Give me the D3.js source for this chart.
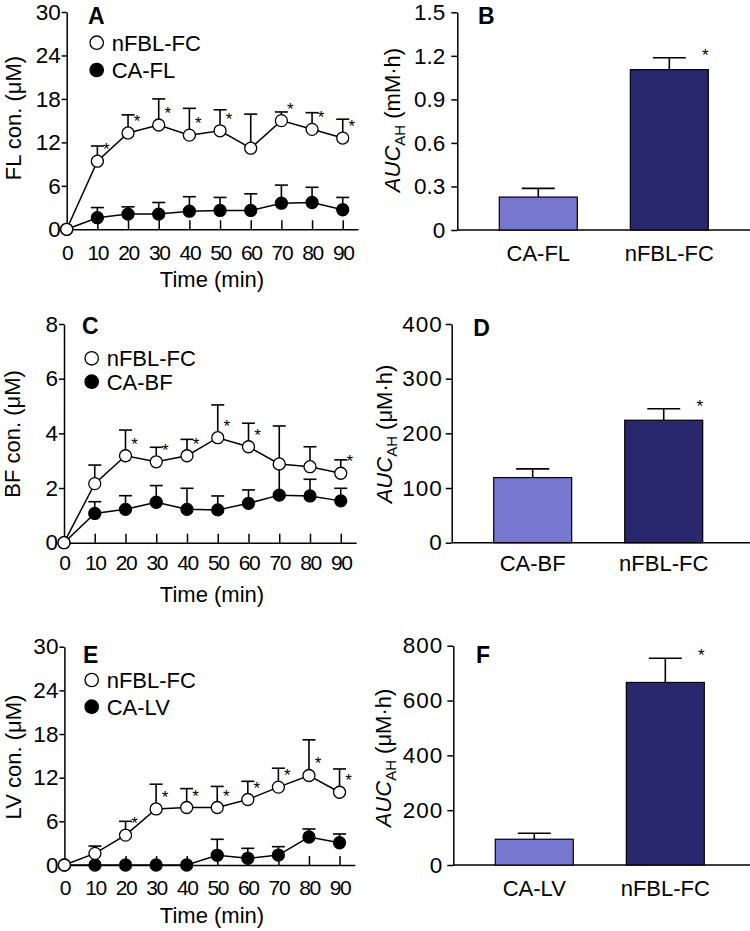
<!DOCTYPE html>
<html>
<head>
<meta charset="utf-8">
<script src="https://cdn.jsdelivr.net/npm/d3@7"></script>
<style>
  body { margin: 0; background: #fff; }
  svg { display: block; }
</style>
</head>
<body>
<svg id="fig" width="750" height="931"></svg>
<script>
// time course data (mean and upper SD)
const timePoints = [0, 10, 20, 30, 40, 50, 60, 70, 80, 90];

const flNfbl    = [0, 9.4, 13.3, 14.4, 13.0, 13.6, 11.2, 15.0, 13.8, 12.6];
const flNfblErr = [0, 2.1, 2.5, 3.6, 3.7, 2.9, 4.7, 1.2, 2.3, 2.6];
const flCa      = [0, 1.6, 2.1, 2.1, 2.5, 2.6, 2.6, 3.6, 3.7, 2.7];
const flCaErr   = [0, 1.4, 1.0, 1.6, 2.0, 1.8, 2.3, 2.5, 2.1, 1.7];
const flSig     = [0, 1, 1, 1, 1, 1, 0, 1, 1, 1];

const bfNfbl    = [0, 2.16, 3.18, 2.96, 3.18, 3.84, 3.51, 2.88, 2.78, 2.54];
const bfNfblErr = [0, 0.68, 0.94, 0.53, 0.60, 1.20, 0.86, 1.39, 0.73, 0.49];
const bfCa      = [0, 1.07, 1.22, 1.48, 1.22, 1.20, 1.44, 1.74, 1.71, 1.53];
const bfCaErr   = [0, 0.43, 0.50, 0.61, 0.77, 0.51, 0.49, 1.10, 0.61, 0.46];
const bfSig     = [0, 0, 1, 1, 1, 1, 1, 0, 0, 1];

const lvNfbl    = [0, 1.6, 4.1, 7.7, 7.9, 7.9, 9.0, 10.7, 12.3, 10.0];
const lvNfblErr = [0, 1.0, 1.9, 3.4, 2.6, 2.9, 2.5, 2.6, 4.9, 3.2];
const lvCa      = [0, 0, 0, 0, 0, 1.33, 0.92, 1.37, 3.85, 3.06];
const lvCaErr   = [0, 0, 0, 0, 0, 2.2, 1.37, 1.15, 1.1, 1.2];
const lvSig     = [0, 0, 1, 1, 1, 1, 1, 1, 1, 1];

// AUC bars
const aucFlCats = ["CA-FL", "nFBL-FC"];
const aucFl     = [0.227, 1.105];
const aucFlErr  = [0.060, 0.082];
const aucBfCats = ["CA-BF", "nFBL-FC"];
const aucBf     = [119, 224];
const aucBfErr  = [16, 21];
const aucLvCats = ["CA-LV", "nFBL-FC"];
const aucLv     = [94, 666];
const aucLvErr  = [22, 88];
const aucSig    = [0, 1];

const flTicks = [0, 6, 12, 18, 24, 30];
const bfTicks = [0, 2, 4, 6, 8];
const lvTicks = [0, 6, 12, 18, 24, 30];
const aucFlTicks = [0, 0.3, 0.6, 0.9, 1.2, 1.5];
const aucBfTicks = [0, 100, 200, 300, 400];
const aucLvTicks = [0, 200, 400, 600, 800];

const FONT = "'Liberation Sans', Arial, Helvetica, sans-serif";
const lightBar = "#7777cf";
const darkBar = "#29286f";

const svg = d3.select("#fig");

function styleAxis(g, size) {
    g.selectAll("text").attr("font-family", FONT).attr("font-size", size).attr("fill", "#000");
    g.selectAll("line, path").attr("stroke", "#000").attr("stroke-width", 1.5);
}

function asterisk(g, x, y) {
    // y is the visual centre of the star
    g.append("text").text("*")
        .attr("x", x).attr("y", y + 10)
        .attr("text-anchor", "middle")
        .attr("font-family", FONT).attr("font-size", 17).attr("fill", "#000");
}

function linePanel(p) {
    const g = svg.append("g");
    const x = d3.scaleLinear().domain([0, 95]).range([p.left, p.left + 95 * p.step]);
    const y = d3.scaleLinear().domain([0, p.ymax]).range([p.bottom, p.top]);

    // axes
    const gy = g.append("g").attr("transform", `translate(${p.left},0)`)
        .call(d3.axisLeft(y).tickValues(p.yTicks).tickSizeInner(5).tickSizeOuter(0).tickPadding(1));
    styleAxis(gy, 22.5);
    const gx = g.append("g").attr("transform", `translate(0,${p.bottom})`)
        .call(d3.axisBottom(x).tickValues(timePoints).tickSizeInner(-9).tickSizeOuter(0).tickPadding(p.xPad));
    styleAxis(gx, 21);
    gx.selectAll("text").attr("letter-spacing", -1.4);
    gx.selectAll(".tick").filter(d => d === 0).select("line").remove();

    // titles
    g.append("text").text(p.yTitle)
        .attr("transform", `translate(${p.yTitleX},${p.yTitleY}) rotate(-90)`)
        .attr("text-anchor", "middle").attr("font-family", FONT).attr("font-size", 22);
    g.append("text").text("Time (min)")
        .attr("x", 212).attr("y", p.xTitleY)
        .attr("text-anchor", "middle").attr("font-family", FONT).attr("font-size", 22);
    g.append("text").text(p.letter)
        .attr("x", p.letterX).attr("y", p.letterY)
        .attr("font-family", FONT).attr("font-size", 23).attr("font-weight", "bold");

    const line = d3.line().x((d, i) => x(timePoints[i])).y(d => y(d));
    [p.ca, p.nfbl].forEach(s => {
        g.append("path").datum(s).attr("d", line)
            .attr("fill", "none").attr("stroke", "#000").attr("stroke-width", 1.5);
    });

    // error bars (upper only)
    [[p.ca, p.caErr], [p.nfbl, p.nfblErr]].forEach(([m, e]) => {
        const eb = g.append("g").attr("stroke", "#000").attr("stroke-width", 1.6);
        timePoints.forEach((t, i) => {
            if (!e[i]) return;
            const cx = x(t), top = y(m[i] + e[i]);
            eb.append("line").attr("x1", cx).attr("x2", cx).attr("y1", y(m[i])).attr("y2", top);
            eb.append("line").attr("x1", cx - 6.5).attr("x2", cx + 6.5).attr("y1", top).attr("y2", top);
        });
    });

    g.append("g").selectAll("circle").data(p.ca).join("circle")
        .attr("cx", (d, i) => x(timePoints[i])).attr("cy", d => y(d)).attr("r", 6)
        .attr("fill", "#000").attr("stroke", "#000").attr("stroke-width", 1.3);
    g.append("g").selectAll("circle").data(p.nfbl).join("circle")
        .attr("cx", (d, i) => x(timePoints[i])).attr("cy", d => y(d)).attr("r", 6)
        .attr("fill", "#fff").attr("stroke", "#000").attr("stroke-width", 1.3);

    p.sig.forEach((s, i) => {
        if (s) asterisk(g, x(timePoints[i]) + 9, y(p.nfbl[i]) - 16);
    });

    // legend
    const lg = g.append("g");
    [["nFBL-FC", "#fff", p.legY[0]], [p.caName, "#000", p.legY[1]]].forEach(([name, fill, ly]) => {
        lg.append("circle").attr("cx", p.legX).attr("cy", ly).attr("r", 6.7)
            .attr("fill", fill).attr("stroke", "#000").attr("stroke-width", 1.3);
        lg.append("text").text(name).attr("x", p.legX + 15).attr("y", ly + 7.8)
            .attr("font-family", FONT).attr("font-size", 22);
    });
}

function barPanel(p) {
    const g = svg.append("g");
    const x = d3.scaleBand().domain(p.cats).range([p.left + 42, p.left + 251]).paddingInner(0.405).paddingOuter(0);
    const y = d3.scaleLinear().domain([0, p.ymax]).range([p.bottom, p.top]);

    const gy = g.append("g").attr("transform", `translate(${p.left},0)`)
        .call(d3.axisLeft(y).tickValues(p.yTicks).tickSizeInner(6).tickSizeOuter(0).tickPadding(p.yPad)
            .tickFormat(d => d === 0 ? "0" : p.fmt(d)));
    styleAxis(gy, 22.5);
    gy.selectAll("text").attr("letter-spacing", p.ySpace);

    g.append("line").attr("x1", p.left).attr("x2", 750).attr("y1", p.bottom).attr("y2", p.bottom)
        .attr("stroke", "#000").attr("stroke-width", 1.5);

    const gx = g.append("g").attr("transform", `translate(0,${p.bottom})`)
        .call(d3.axisBottom(x).tickSize(0).tickPadding(p.xPad));
    gx.select(".domain").remove();
    styleAxis(gx, 22);

    g.selectAll("rect.bar").data(p.values).join("rect").attr("class", "bar")
        .attr("x", (d, i) => x(p.cats[i])).attr("width", x.bandwidth())
        .attr("y", d => y(d)).attr("height", d => p.bottom - y(d))
        .attr("fill", (d, i) => i === 0 ? lightBar : darkBar)
        .attr("stroke", "#000").attr("stroke-width", 1.2);

    const eb = g.append("g").attr("stroke", "#000").attr("stroke-width", 1.6);
    p.values.forEach((v, i) => {
        const cx = x(p.cats[i]) + x.bandwidth() / 2, top = y(v + p.errs[i]);
        eb.append("line").attr("x1", cx).attr("x2", cx).attr("y1", y(v)).attr("y2", top);
        eb.append("line").attr("x1", cx - 16.5).attr("x2", cx + 16.5).attr("y1", top).attr("y2", top);
        if (aucSig[i]) asterisk(g, x(p.cats[i]) + x.bandwidth() - 3, top - 7);
    });

    const t = g.append("text")
        .attr("transform", `translate(${p.yTitleX},${p.yTitleY}) rotate(-90)`)
        .attr("text-anchor", "middle").attr("font-family", FONT).attr("font-size", 22);
    t.append("tspan").text("AUC").attr("font-style", "italic");
    t.append("tspan").text("AH").attr("font-size", 15).attr("dy", 5);
    t.append("tspan").text(" " + p.unit).attr("dy", -5);

    g.append("text").text(p.letter)
        .attr("x", p.letterX).attr("y", p.letterY)
        .attr("font-family", FONT).attr("font-size", 23).attr("font-weight", "bold");
}

linePanel({
    left: 66.7, step: 3.067, top: 12, bottom: 229.3, ymax: 30, yTicks: flTicks, xPad: 15.5,
    yTitle: "FL con. (\u03bcM)", yTitleX: 21, yTitleY: 118, xTitleY: 287,
    letter: "A", letterX: 88, letterY: 24,
    nfbl: flNfbl, nfblErr: flNfblErr, ca: flCa, caErr: flCaErr, sig: flSig,
    caName: "CA-FL", legX: 96.7, legY: [42.7, 70]
});
linePanel({
    left: 64, step: 3.075, top: 324, bottom: 542.7, ymax: 8, yTicks: bfTicks, xPad: 12.5,
    yTitle: "BF con. (\u03bcM)", yTitleX: 20, yTitleY: 434, xTitleY: 602,
    letter: "C", letterX: 82, letterY: 334,
    nfbl: bfNfbl, nfblErr: bfNfblErr, ca: bfCa, caErr: bfCaErr, sig: bfSig,
    caName: "CA-BF", legX: 91.7, legY: [358.3, 381.7]
});
linePanel({
    left: 64.4, step: 3.057, top: 646.7, bottom: 865, ymax: 30, yTicks: lvTicks, xPad: 15,
    yTitle: "LV con. (\u03bcM)", yTitleX: 20.5, yTitleY: 757, xTitleY: 923,
    letter: "E", letterX: 83, letterY: 662.5,
    nfbl: lvNfbl, nfblErr: lvNfblErr, ca: lvCa, caErr: lvCaErr, sig: lvSig,
    caName: "CA-LV", legX: 91.7, legY: [680, 706.7]
});

barPanel({
    left: 457.3, top: 12.3, bottom: 230, ymax: 1.5, yTicks: aucFlTicks, fmt: d3.format(".1f"), yPad: 6, ySpace: 0, xPad: 15,
    cats: aucFlCats, values: aucFl, errs: aucFlErr, unit: "(mM\u00b7h)",
    yTitleX: 400, yTitleY: 120, letter: "B", letterX: 478, letterY: 24
});
barPanel({
    left: 451.7, top: 324, bottom: 542.7, ymax: 400, yTicks: aucBfTicks, fmt: d3.format("d"), yPad: 3, ySpace: 1, xPad: 13,
    cats: aucBfCats, values: aucBf, errs: aucBfErr, unit: "(\u03bcM\u00b7h)",
    yTitleX: 392, yTitleY: 434, letter: "D", letterX: 473.3, letterY: 336
});
barPanel({
    left: 453.3, top: 645.7, bottom: 865, ymax: 800, yTicks: aucLvTicks, fmt: d3.format("d"), yPad: 4, ySpace: 1, xPad: 15,
    cats: aucLvCats, values: aucLv, errs: aucLvErr, unit: "(\u03bcM\u00b7h)",
    yTitleX: 391, yTitleY: 758, letter: "F", letterX: 476, letterY: 662.5
});
</script>
</body>
</html>
